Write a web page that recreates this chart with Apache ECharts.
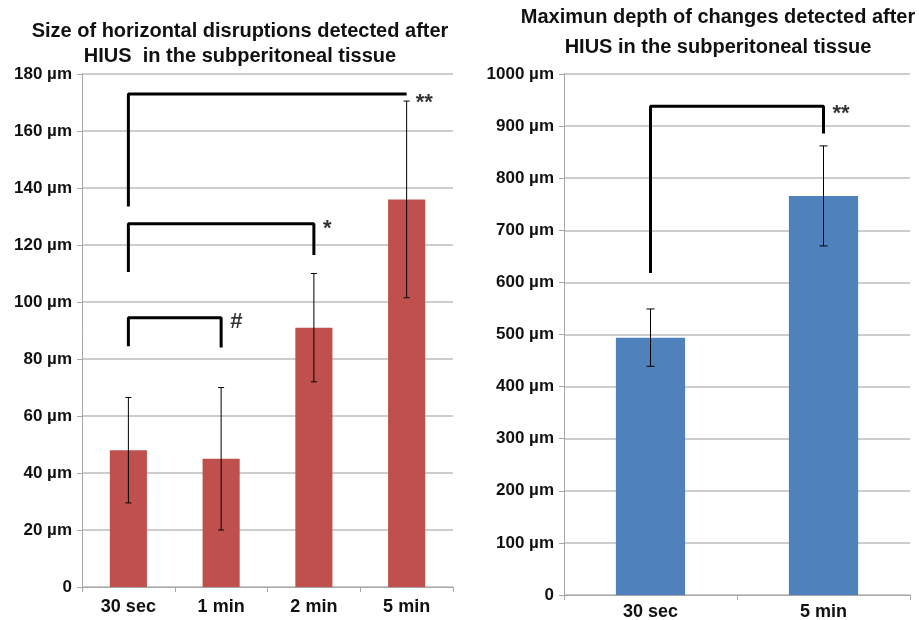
<!DOCTYPE html>
<html>
<head>
<meta charset="utf-8">
<script src="https://cdn.jsdelivr.net/npm/echarts@6/dist/echarts.min.js"></script>
<style>
  html, body { margin: 0; padding: 0; background: #fff; }
  #chart { width: 919px; height: 620px; }
</style>
</head>
<body>
<div id="chart"></div>
<script>
// left panel: horizontal disruptions
const leftCats = ['30 sec', '1 min', '2 min', '5 min'];
const leftMeans = [48, 45, 91, 136];
const leftErr = [18.5, 25, 19, 34.5];
const leftBrackets = [
  [['30 sec', 133.5], ['30 sec', 173], ['5 min', 173]],
  [['30 sec', 110.5], ['30 sec', 127.5], ['2 min', 127.5], ['2 min', 116.5]],
  [['30 sec', 84.5], ['30 sec', 94.5], ['1 min', 94.5], ['1 min', 84]],
];
const leftMarks = ['**', '*', '#'];
const leftMarkCats = ['5 min', '2 min', '1 min'];
const leftMarkVals = [170, 125.5, 93];

// right panel: maximum depth
const rightCats = ['30 sec', '5 min'];
const rightMeans = [494, 766];
const rightErr = [55, 96];
const rightBracket = [['30 sec', 618], ['30 sec', 938], ['5 min', 938], ['5 min', 886]];
const rightMarks = ['**'];
const rightMarkCats = ['5 min'];
const rightMarkVals = [924];

const FONT = "'Liberation Sans', Arial, sans-serif";
const RED = '#c0504d';
const BLUE = '#4f81bd';

const chart = echarts.init(document.getElementById('chart'));

const umLabel = (v) => (v === 0 ? '0' : v + ' µm');

function errorBars(xIdx, means, errs, capW) {
  return {
    type: 'custom',
    xAxisIndex: xIdx,
    yAxisIndex: xIdx,
    z: 5,
    data: means.map((m, i) => [i, m - errs[i], m + errs[i]]),
    renderItem: function (params, api) {
      const lo = api.coord([api.value(0), api.value(1)]);
      const hi = api.coord([api.value(0), api.value(2)]);
      const style = { stroke: '#000', lineWidth: 1 };
      return {
        type: 'group',
        children: [
          { type: 'line', shape: { x1: lo[0], y1: lo[1], x2: hi[0], y2: hi[1] }, style },
          { type: 'line', shape: { x1: lo[0] - capW, y1: lo[1], x2: lo[0] + capW, y2: lo[1] }, style },
          { type: 'line', shape: { x1: hi[0] - capW, y1: hi[1], x2: hi[0] + capW, y2: hi[1] }, style },
        ],
      };
    },
  };
}

function bracket(xIdx, data) {
  return {
    type: 'line',
    xAxisIndex: xIdx,
    yAxisIndex: xIdx,
    data: data,
    symbol: 'none',
    z: 6,
    lineStyle: { color: '#000', width: 3 },
    silent: true,
  };
}

function marks(xIdx, texts, cats, vals, dist) {
  return {
    type: 'scatter',
    xAxisIndex: xIdx,
    yAxisIndex: xIdx,
    symbolSize: 0,
    z: 7,
    data: texts.map((t, i) => ({ value: [cats[i], vals[i]], name: t })),
    label: {
      show: true,
      position: 'right',
      distance: dist,
      formatter: (p) => p.name,
      color: '#000',
      fontFamily: FONT,
      fontWeight: 'bold',
      fontSize: 22,
    },
    silent: true,
  };
}

const axisLabelStyle = {
  color: '#111',
  fontFamily: FONT,
  fontWeight: 'bold',
  fontSize: 17,
};

function catAxis(idx, cats, margin) {
  return {
    type: 'category',
    gridIndex: idx,
    data: cats,
    axisLine: { lineStyle: { color: '#a6a6a6', width: 1 } },
    axisTick: { show: true, length: 5, lineStyle: { color: '#a6a6a6' } },
    axisLabel: Object.assign({}, axisLabelStyle, { margin: margin, fontSize: 18 }),
  };
}

function valAxis(idx, max, step) {
  return {
    type: 'value',
    gridIndex: idx,
    min: 0,
    max: max,
    interval: step,
    axisLine: { show: true, lineStyle: { color: '#a6a6a6', width: 1 } },
    axisTick: { show: true, length: 5, lineStyle: { color: '#a6a6a6' } },
    splitLine: { lineStyle: { color: '#bdbdbd', width: 1.5 } },
    axisLabel: Object.assign({ margin: 10, formatter: umLabel }, axisLabelStyle),
  };
}

const option = {
  backgroundColor: '#fff',
  animation: false,
  title: [
    {
      text: 'Size of horizontal disruptions detected after\nHIUS  in the subperitoneal tissue',
      left: 240,
      top: 19,
      textAlign: 'center',
      padding: 0,
      textStyle: { fontFamily: FONT, fontWeight: 'bold', fontSize: 20, lineHeight: 25, color: '#111' },
    },
    {
      text: 'Maximun depth of changes detected after\nHIUS in the subperitoneal tissue',
      left: 718,
      top: 2,
      textAlign: 'center',
      padding: 0,
      textStyle: { fontFamily: FONT, fontWeight: 'bold', fontSize: 20, lineHeight: 30, color: '#111' },
    },
  ],
  grid: [
    { left: 82, right: 466, top: 74, bottom: 33, outerBoundsMode: 'none' },
    { left: 564, right: 9, top: 74, bottom: 25, outerBoundsMode: 'none' },
  ],
  xAxis: [catAxis(0, leftCats, 11), catAxis(1, rightCats, 8)],
  yAxis: [valAxis(0, 180, 20), valAxis(1, 1000, 100)],
  series: [
    {
      type: 'bar',
      xAxisIndex: 0,
      yAxisIndex: 0,
      data: leftMeans,
      barWidth: '40%',
      itemStyle: { color: RED },
    },
    {
      type: 'bar',
      xAxisIndex: 1,
      yAxisIndex: 1,
      data: rightMeans,
      barWidth: '40%',
      itemStyle: { color: BLUE },
    },
    errorBars(0, leftMeans, leftErr, 3),
    errorBars(1, rightMeans, rightErr, 4),
    ...leftBrackets.map((b) => bracket(0, b)),
    bracket(1, rightBracket),
    marks(0, leftMarks, leftMarkCats, leftMarkVals, 9),
    marks(1, rightMarks, rightMarkCats, rightMarkVals, 9),
  ],
};

chart.setOption(option);
</script>
</body>
</html>
